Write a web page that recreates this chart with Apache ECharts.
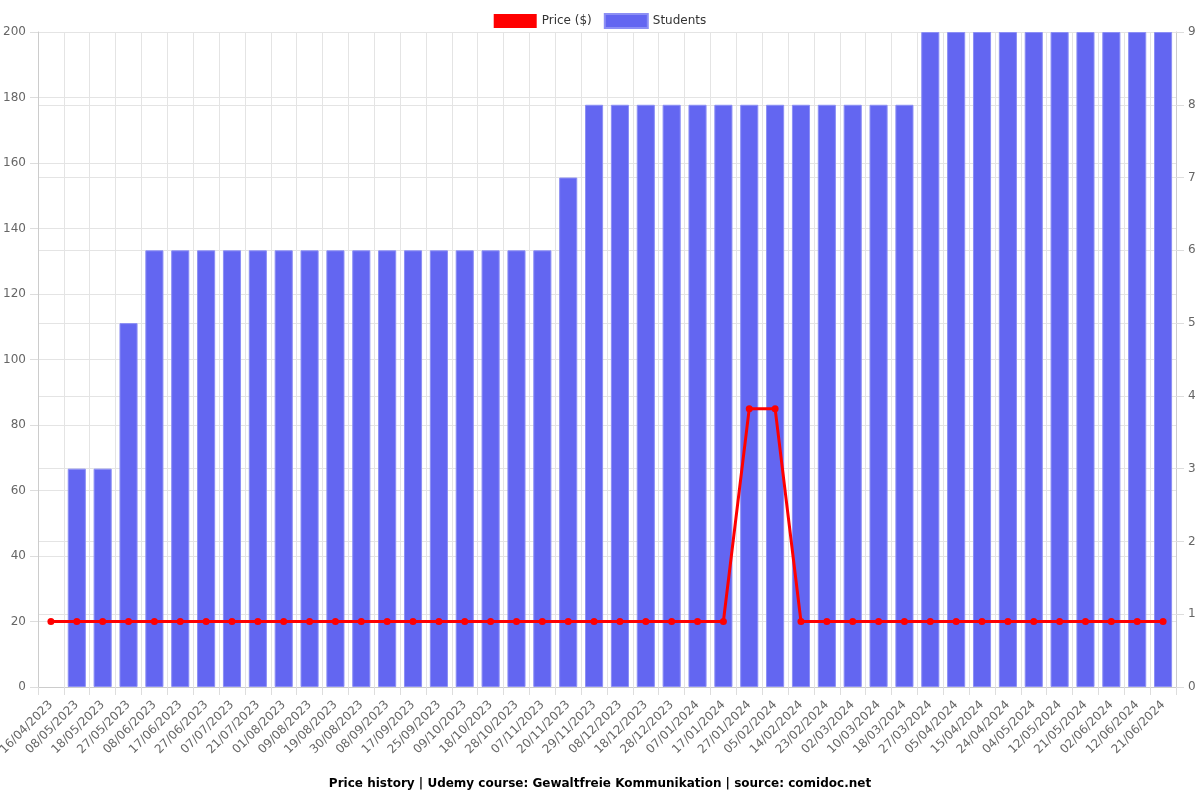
<!DOCTYPE html>
<html><head><meta charset="utf-8">
<script src="https://cdn.jsdelivr.net/npm/echarts@6/dist/echarts.min.js"></script>
<style>html,body{margin:0;padding:0;background:#fff}#c{width:1200px;height:800px}</style>
</head><body><div id="c"></div>
<script>
var dates = ["16/04/2023","08/05/2023","18/05/2023","27/05/2023","08/06/2023","17/06/2023","27/06/2023","07/07/2023","21/07/2023","01/08/2023","09/08/2023","19/08/2023","30/08/2023","08/09/2023","17/09/2023","25/09/2023","09/10/2023","18/10/2023","28/10/2023","07/11/2023","20/11/2023","29/11/2023","08/12/2023","18/12/2023","28/12/2023","07/01/2024","17/01/2024","27/01/2024","05/02/2024","14/02/2024","23/02/2024","02/03/2024","10/03/2024","18/03/2024","27/03/2024","05/04/2024","15/04/2024","24/04/2024","04/05/2024","12/05/2024","21/05/2024","02/06/2024","12/06/2024","21/06/2024"];
var price = [19.99,19.99,19.99,19.99,19.99,19.99,19.99,19.99,19.99,19.99,19.99,19.99,19.99,19.99,19.99,19.99,19.99,19.99,19.99,19.99,19.99,19.99,19.99,19.99,19.99,19.99,19.99,84.99,84.99,19.99,19.99,19.99,19.99,19.99,19.99,19.99,19.99,19.99,19.99,19.99,19.99,19.99,19.99,19.99];
var students = [0,3,3,5,6,6,6,6,6,6,6,6,6,6,6,6,6,6,6,6,7,8,8,8,8,8,8,8,8,8,8,8,8,8,9,9,9,9,9,9,9,9,9,9];
var leftTicks = {min:0, max:200, interval:20};
var rightTicks = {min:0, max:9, interval:1};
var titleText = "Price history | Udemy course: Gewaltfreie Kommunikation | source: comidoc.net";

var chart = echarts.init(document.getElementById('c'), null, {renderer:'canvas'});
var font = 'DejaVu Sans';
chart.setOption({
  animation:false,
  textStyle:{fontFamily:font},
  title:{text:titleText,left:'center',bottom:5,textStyle:{fontFamily:font,fontSize:12,fontWeight:'bold',color:'#000'}},
  legend:{top:8,left:'center',itemWidth:43,itemHeight:14,itemGap:12,textStyle:{fontFamily:font,fontSize:12,color:'#333'},
    data:[{name:'Price ($)',icon:'rect',itemStyle:{color:'#ff0000'}},{name:'Students',icon:'rect',itemStyle:{color:'#6366f1'}}]},
  grid:{left:38,right:24,top:32,bottom:113,containLabel:false,outerBoundsMode:'none'},
  xAxis:{type:'category',data:dates,boundaryGap:true,
    axisLine:{lineStyle:{color:'#ccc'}},axisTick:{show:true,alignWithLabel:false,length:8,lineStyle:{color:'#ddd'}},
    axisLabel:{rotate:45,interval:0,fontFamily:font,fontSize:12,color:'#666',margin:16},
    splitLine:{show:true,lineStyle:{color:'#e4e4e4'}}},
  yAxis:[
    {type:'value',min:leftTicks.min,max:leftTicks.max,interval:leftTicks.interval,position:'left',
     axisLine:{show:true,lineStyle:{color:'#ccc'}},axisTick:{show:true,length:8,lineStyle:{color:'#ddd'}},
     axisLabel:{fontFamily:font,fontSize:12,color:'#666',margin:12},splitLine:{lineStyle:{color:'#e4e4e4'}}},
    {type:'value',min:rightTicks.min,max:rightTicks.max,interval:rightTicks.interval,position:'right',
     axisLine:{show:true,lineStyle:{color:'#ccc'}},axisTick:{show:true,length:8,lineStyle:{color:'#ddd'}},
     axisLabel:{fontFamily:font,fontSize:12,color:'#666',margin:12},splitLine:{show:true,lineStyle:{color:'#e4e4e4'}}}
  ],
  series:[
    {name:'Price ($)',type:'line',yAxisIndex:0,data:price,z:5,symbol:'circle',symbolSize:7,
     lineStyle:{color:'#ff0000',width:3},itemStyle:{color:'#ff0000'}},
    {name:'Students',type:'bar',yAxisIndex:1,barCategoryGap:'30%',z:2,
     data:students.map(function(v){return v===0?{value:v,itemStyle:{borderWidth:0}}:v;}),
     itemStyle:{color:'#6366f1',borderColor:'rgba(140,143,245,1)',borderWidth:1}}
  ]
});
</script></body></html>
